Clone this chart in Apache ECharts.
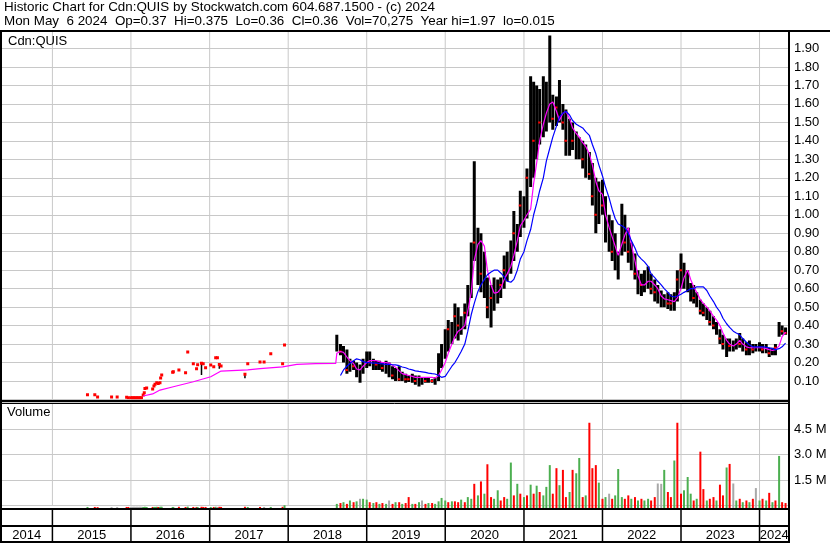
<!DOCTYPE html>
<html><head><meta charset="utf-8">
<script src="https://cdn.jsdelivr.net/npm/echarts@6/dist/echarts.min.js"></script>
<style>html,body{margin:0;padding:0;background:#fff;}#c{width:830px;height:543px;}</style>
</head><body><div id="c"></div>
<script>
// ---------- text ----------
const headerLines = [
  'Historic Chart for Cdn:QUIS by Stockwatch.com 604.687.1500 - (c) 2024',
  'Mon May  6 2024  Op=0.37  Hi=0.375  Lo=0.36  Cl=0.36  Vol=70,275  Year hi=1.97  lo=0.015'
];
const panelLabels = ['Cdn:QUIS', 'Volume'];
const yearLabels = ['2014','2015','2016','2017','2018','2019','2020','2021','2022','2023','2024'];
const yearStarts = ['2015-01-01','2016-01-01','2017-01-01','2018-01-01','2019-01-01','2020-01-01','2021-01-01','2022-01-01','2023-01-01','2024-01-01'];
const timeRange = ['2014-05-07', '2024-05-17'];

// ---------- sparse trading 2015-2017 ----------
const sDates = ['2015-06-13','2015-07-17','2015-07-30','2015-10-03','2015-10-29','2015-12-12','2015-12-20',
  '2016-01-01','2016-01-08','2016-01-15','2016-01-22','2016-01-29','2016-02-05','2016-02-12','2016-02-19',
  '2016-02-27','2016-03-03','2016-03-06','2016-03-14','2016-04-11','2016-04-17','2016-04-22','2016-04-30','2016-05-07','2016-05-15','2016-05-18','2016-05-23',
  '2016-07-13','2016-07-16','2016-08-11','2016-09-11','2016-09-21','2016-10-17','2016-11-01','2016-11-06','2016-11-24','2016-12-02','2016-12-13',
  '2017-01-06','2017-01-20','2017-01-29','2017-02-06','2017-02-15','2017-02-23','2017-06-14','2017-06-27','2017-08-23','2017-09-11','2017-10-12','2017-12-06','2017-12-15'];
const sHigh = [.026,.026,.014,.014,.014,.012,.01,
  .01,.01,.01,.01,.01,.01,.01,.01,
  .024,.037,.06,.062,.057,.073,.082,.091,.086,.091,.116,.133,
  .147,.15,.16,.145,.257,.194,.167,.188,.196,.194,.172,
  .187,.177,.226,.226,.19,.181,.136,.194,.203,.203,.248,.194,.295];
const sLow = [.026,.026,.014,.014,.014,.012,.01,
  .01,.01,.01,.01,.01,.01,.01,.01,
  .024,.037,.06,.062,.057,.073,.082,.091,.086,.091,.116,.133,
  .147,.15,.16,.145,.257,.194,.167,.188,.133,.194,.172,
  .187,.177,.226,.226,.167,.181,.115,.194,.203,.203,.248,.194,.295];
const sVol = [.02,.02,.01,.01,.01,.02,.02,
  .03,.03,.03,.03,.03,.03,.03,.03,
  .02,.02,.03,.02,.02,.02,.02,.03,.02,.02,.03,.03,
  .02,.02,.03,.02,.04,.02,.02,.02,.03,.02,.02,.02,.02,.03,.02,.03,.02,.03,.02,.02,.02,.02,.03,.12];
const sDir = ['uddnnddnnn','nnnnnuuuud','uuuduuuuud','duddudddud','undddudnud','u'].join('').split('');

// ---------- semi-monthly bars 2018-2024 ----------
const dates = [
 '2018-08-15','2018-09-01','2018-09-15','2018-10-01','2018-10-15','2018-11-01','2018-11-15','2018-12-01','2018-12-15',
 '2019-01-01','2019-01-15','2019-02-01','2019-02-15','2019-03-01','2019-03-15','2019-04-01','2019-04-15','2019-05-01','2019-05-15','2019-06-01','2019-06-15','2019-07-01','2019-07-15','2019-08-01','2019-08-15','2019-09-01','2019-09-15','2019-10-01','2019-10-15','2019-11-01','2019-11-15','2019-12-01','2019-12-15',
 '2020-01-01','2020-01-15','2020-02-01','2020-02-15','2020-03-01','2020-03-15','2020-04-01','2020-04-15','2020-05-01','2020-05-15','2020-06-01','2020-06-15','2020-07-01','2020-07-15','2020-08-01','2020-08-15','2020-09-01','2020-09-15','2020-10-01','2020-10-15','2020-11-01','2020-11-15','2020-12-01','2020-12-15',
 '2021-01-01','2021-01-15','2021-02-01','2021-02-15','2021-03-01','2021-03-15','2021-04-01','2021-04-15','2021-05-01','2021-05-15','2021-06-01','2021-06-15','2021-07-01','2021-07-15','2021-08-01','2021-08-15','2021-09-01','2021-09-15','2021-10-01','2021-10-15','2021-11-01','2021-11-15','2021-12-01','2021-12-15',
 '2022-01-01','2022-01-15','2022-02-01','2022-02-15','2022-03-01','2022-03-15','2022-04-01','2022-04-15','2022-05-01','2022-05-15','2022-06-01','2022-06-15','2022-07-01','2022-07-15','2022-08-01','2022-08-15','2022-09-01','2022-09-15','2022-10-01','2022-10-15','2022-11-01','2022-11-15','2022-12-01','2022-12-15',
 '2023-01-01','2023-01-15','2023-02-01','2023-02-15','2023-03-01','2023-03-15','2023-04-01','2023-04-15','2023-05-01','2023-05-15','2023-06-01','2023-06-15','2023-07-01','2023-07-15','2023-08-01','2023-08-15','2023-09-01','2023-09-15','2023-10-01','2023-10-15','2023-11-01','2023-11-15','2023-12-01','2023-12-15',
 '2024-01-01','2024-01-15','2024-02-01','2024-02-15','2024-03-01','2024-03-15','2024-04-01','2024-04-15','2024-05-01'];
const high = [
 .35,.30,.29,.27,.22,.21,.20,.19,.22,
 .26,.26,.22,.21,.21,.20,.21,.20,.18,.17,.18,.15,.14,.13,.14,.13,.13,.12,.12,.12,.11,.12,.25,.30,
 .38,.43,.42,.52,.50,.45,.52,.62,.85,1.29,.93,.90,.80,.66,.62,.66,.65,.66,.78,.80,.86,1.02,.95,1.13,
 1.10,1.25,1.75,1.72,1.70,1.68,1.75,1.72,1.97,1.65,1.64,1.73,1.60,1.57,1.52,1.50,1.45,1.42,1.40,1.38,1.34,1.28,1.20,1.18,
 1.19,1.10,1.00,.97,.90,.80,1.06,1.00,.93,.85,.79,.70,.68,.70,.72,.68,.65,.62,.59,.57,.58,.57,.58,.70,
 .79,.74,.70,.63,.62,.58,.54,.52,.50,.48,.45,.42,.38,.35,.33,.33,.32,.33,.36,.33,.31,.32,.30,.30,
 .31,.30,.30,.28,.28,.30,.42,.40,.39];
const low = [
 .26,.24,.20,.14,.15,.16,.12,.09,.14,
 .17,.18,.16,.16,.16,.15,.14,.12,.11,.10,.10,.10,.09,.095,.09,.08,.07,.08,.09,.09,.09,.08,.10,.17,
 .22,.26,.30,.33,.32,.35,.38,.45,.55,.75,.62,.58,.55,.44,.39,.48,.52,.55,.60,.64,.68,.75,.80,.88,
 .93,.98,1.15,1.20,1.30,1.38,1.42,1.45,1.50,1.46,1.48,1.50,1.46,1.32,1.32,1.35,1.30,1.30,1.25,1.20,1.19,1.05,.90,.95,
 1.00,.85,.80,.75,.70,.65,.78,.80,.74,.70,.65,.57,.56,.58,.60,.57,.53,.52,.50,.50,.49,.48,.48,.53,
 .60,.60,.58,.53,.52,.50,.46,.45,.43,.40,.38,.35,.30,.27,.23,.26,.26,.27,.28,.26,.24,.24,.25,.26,
 .26,.25,.25,.23,.24,.24,.34,.35,.35];
const close = [
 .28,.26,.22,.16,.20,.18,.14,.17,.20,
 .22,.20,.19,.19,.18,.17,.16,.14,.13,.12,.11,.11,.11,.11,.10,.10,.09,.10,.10,.10,.10,.10,.20,.26,
 .34,.38,.35,.45,.40,.42,.47,.55,.80,.85,.75,.68,.60,.50,.55,.58,.60,.62,.70,.72,.80,.90,.88,1.05,
 1.00,1.20,1.50,1.40,1.55,1.50,1.60,1.55,1.60,1.52,1.58,1.55,1.50,1.40,1.45,1.40,1.38,1.36,1.30,1.28,1.22,1.10,1.00,1.10,
 1.05,.90,.88,.80,.75,.72,.95,.85,.80,.72,.68,.60,.62,.65,.66,.60,.58,.55,.52,.54,.52,.52,.55,.65,
 .70,.65,.62,.56,.55,.52,.48,.47,.45,.42,.40,.37,.33,.30,.28,.29,.29,.30,.30,.28,.27,.28,.27,.28,
 .28,.27,.27,.25,.26,.28,.38,.37,.36];
const volume = [ // millions
 .2,.25,.3,.2,.4,.3,.35,.5,.5,
 .45,.3,.25,.3,.2,.25,.2,.4,.2,.3,.3,.2,.25,.6,.2,.2,.3,.4,.2,.25,.25,.2,.35,.55,
 .4,.3,.35,.35,.3,.45,.3,.6,.5,1.38,.7,1.52,.8,2.53,.6,.5,1.0,.4,.6,.5,2.63,.7,1.38,.8,
 .6,.7,1.33,.8,1.27,.9,.7,1.2,2.48,.8,2.3,1.3,2.2,.6,.9,2.2,2.0,2.9,.6,.7,4.97,2.3,2.48,1.45,
 .5,.6,.8,.5,.7,2.25,.6,.5,.7,.5,.6,.4,.5,.4,.5,.4,.6,1.4,1.38,2.2,.9,.6,2.75,4.97,
 .8,1.0,1.78,.8,.4,.5,3.27,1.07,.4,.5,.6,.4,1.33,.7,2.34,2.55,1.4,.4,.5,.3,.4,.3,.5,1.13,
 .4,.5,.4,.85,.3,.4,3.02,.3,.25];
const dir = ['udududunu',
 'udududun','dududdud','unduduuu',
 'ududdudu','udududdu','udduudud',
 'udududuu','udduddud','uududddu',
 'dunduuud','dududuud','dnnuddud',
 'duuududd','udduddud','nudududn',
 'ududududd'].join('').split('');
const maShort = [
 .25,.26,.255,.23,.21,.195,.165,.16,.18,
 .20,.21,.21,.21,.205,.20,.20,.197,.185,.175,.155,.14,.135,.13,.125,.12,.12,.12,.12,.12,.12,.116,.13,.16,
 .20,.25,.30,.34,.37,.38,.40,.48,.58,.755,.84,.86,.83,.70,.62,.576,.58,.60,.65,.68,.72,.78,.86,.94,
 .97,1.00,1.03,1.17,1.28,1.40,1.49,1.55,1.60,1.61,1.56,1.51,1.55,1.56,1.52,1.47,1.44,1.42,1.39,1.37,1.33,1.27,1.18,1.13,
 1.11,1.00,.93,.88,.83,.78,.84,.89,.93,.84,.75,.67,.62,.62,.64,.64,.62,.60,.56,.545,.54,.535,.53,.55,
 .60,.66,.70,.65,.61,.58,.54,.52,.50,.48,.45,.43,.40,.36,.32,.30,.29,.30,.32,.30,.285,.28,.28,.28,
 .28,.28,.275,.27,.265,.27,.29,.34,.365];
const maLong = [
 null,.13,.16,.18,.195,.21,.22,.215,.205,
 .20,.20,.197,.197,.195,.193,.19,.19,.188,.187,.183,.176,.172,.165,.16,.155,.152,.15,.147,.143,.14,.138,.13,.12,
 .125,.15,.18,.20,.23,.26,.30,.37,.46,.52,.585,.62,.65,.675,.69,.70,.70,.685,.665,.64,.635,.65,.70,.76,
 .80,.86,.92,1.00,1.06,1.13,1.20,1.29,1.36,1.42,1.48,1.53,1.55,1.56,1.54,1.51,1.49,1.48,1.47,1.45,1.43,1.38,1.33,1.27,
 1.21,1.15,1.09,1.03,.98,.95,.94,.93,.90,.86,.82,.78,.76,.745,.72,.68,.66,.64,.62,.60,.58,.56,.555,.56,
 .57,.58,.59,.60,.60,.61,.61,.61,.59,.56,.53,.50,.475,.44,.41,.39,.37,.36,.35,.33,.31,.295,.285,.285,
 .285,.285,.283,.28,.275,.27,.275,.285,.305];
// short average while trading was sparse
const maEarlyDates = ['2016-02-27','2016-04-11','2016-05-15','2016-07-16','2016-10-17','2017-01-06','2017-02-23','2017-06-27','2017-08-23','2017-12-06','2018-02-10','2018-05-08','2018-08-10'];
const maEarly = [.019,.03,.051,.069,.096,.123,.154,.16,.167,.177,.19,.194,.195];

// ---------- build ----------
const FONT = '"Liberation Sans", Arial, sans-serif';
const GREEN = '#4caf50', RED = '#ff0000', GRAY = '#a8a8a8', GRID = '#c8c8c8';
const dnum = c => c === 'u' ? 1 : (c === 'd' ? -1 : 0);

const denseBars = dates.map((d, i) => [d, high[i], low[i], close[i], dnum(dir[i])]);
const sparseBars = sDates.map((d, i) => [d, sHigh[i], sLow[i]]);
const volData = sDates.map((d, i) => [d, sVol[i], dnum(sDir[i])])
  .concat(dates.map((d, i) => [d, volume[i], dnum(dir[i])]));
const maShortData = maEarlyDates.map((d, i) => [d, maEarly[i]]).concat(dates.map((d, i) => [d, maShort[i]]));
const maLongData = dates.map((d, i) => [d, maLong[i]]).filter(p => p[1] != null);
const yearSpans = yearLabels.map((lab, i) => [
  i === 0 ? timeRange[0] : yearStarts[i - 1],
  i === yearLabels.length - 1 ? timeRange[1] : yearStarts[i], i]);

function vLine(color, w) {
  return function (params, api) {
    const p = api.coord([api.value(0), api.value(1)]);
    const cs = params.coordSys;
    return {type: 'line', shape: {x1: p[0], y1: cs.y, x2: p[0], y2: cs.y + cs.height},
      style: {stroke: color, lineWidth: w}};
  };
}
function renderDense(params, api) {
  const t = api.value(0);
  const a = api.coord([t, api.value(1)]), b = api.coord([t, api.value(2)]);
  const kids = [{type: 'rect', shape: {x: a[0] - 1.5, y: a[1], width: 3, height: Math.max(1.5, b[1] - a[1])}, style: {fill: '#000'}}];
  if (api.value(4) < 0) {
    const c = api.coord([t, api.value(3)]);
    kids.push({type: 'rect', shape: {x: c[0] - 1.5, y: c[1] - 1, width: 2.5, height: 2}, style: {fill: RED}});
  }
  return {type: 'group', children: kids};
}
function renderSparse(params, api) {
  const t = api.value(0);
  const a = api.coord([t, api.value(1)]), b = api.coord([t, api.value(2)]);
  const kids = [];
  if (b[1] - a[1] > 1) kids.push({type: 'rect', shape: {x: a[0] - 0.75, y: a[1], width: 1.5, height: b[1] - a[1]}, style: {fill: '#000'}});
  kids.push({type: 'rect', shape: {x: a[0] - 1.5, y: a[1] - 1.5, width: 3, height: 3}, style: {fill: RED}});
  return {type: 'group', children: kids};
}
function renderVol(params, api) {
  const t = api.value(0);
  const p = api.coord([t, api.value(1)]);
  const base = params.coordSys.y + params.coordSys.height;
  const d = api.value(2);
  return {type: 'rect', shape: {x: p[0] - 1, y: p[1], width: 2, height: base - p[1]},
    style: {fill: d > 0 ? GREEN : (d < 0 ? RED : GRAY)}};
}
function renderYear(params, api) {
  const a = api.coord([api.value(0), 0.5]), b = api.coord([api.value(1), 0.5]);
  const cs = params.coordSys, idx = api.value(2);
  const kids = [];
  if (idx > 0) kids.push({type: 'line', shape: {x1: a[0], y1: cs.y, x2: a[0], y2: cs.y + cs.height}, style: {stroke: '#000', lineWidth: 1.5}});
  kids.push({type: 'text', x: (a[0] + b[0]) / 2, y: cs.y + cs.height - 8,
    style: {text: yearLabels[idx], font: '13px ' + FONT, fill: '#000', align: 'center', verticalAlign: 'middle'}});
  return {type: 'group', children: kids};
}

const grids = [
  {left: 1, right: 41, top: 30, height: 369.5},
  {left: 1, right: 41, top: 402, height: 107},
  {left: 1, right: 41, top: 402, height: 103.5},
  {left: 1, right: 41, top: 510, height: 33}
];
const axLabel = {color: '#000', fontFamily: FONT, fontSize: 13, margin: 5};
const line = (x1, y1, x2, y2, w) => ({type: 'line', z: 100, silent: true, shape: {x1, y1, x2, y2}, style: {stroke: '#000', lineWidth: w}});
const txt = (s, x, y, size) => ({type: 'text', z: 100, silent: true, x, y, style: {text: s, font: size + 'px ' + FONT, fill: '#000', verticalAlign: 'top'}});

const option = {
  animation: false,
  backgroundColor: '#fff',
  grid: grids,
  xAxis: grids.map((g, i) => ({type: 'time', gridIndex: i, min: timeRange[0], max: timeRange[1], show: false})),
  yAxis: [
    {type: 'value', gridIndex: 0, position: 'right', min: 0, max: 2, interval: 0.1,
     axisLine: {show: false}, axisTick: {show: false},
     splitLine: {lineStyle: {color: GRID, width: 1}},
     axisLabel: Object.assign({}, axLabel, {formatter: v => (v < 0.05 || v > 1.95) ? '' : v.toFixed(2)})},
    {type: 'value', gridIndex: 1, min: -0.1, max: 6.19, show: false},
    {type: 'value', gridIndex: 2, position: 'right', min: 0, max: 6.088, interval: 1.5,
     axisLine: {show: false}, axisTick: {show: false},
     splitLine: {lineStyle: {color: GRID, width: 1}},
     axisLabel: Object.assign({}, axLabel, {formatter: v => (v < 0.1 || v > 5) ? '' : v.toFixed(1) + ' M'})},
    {type: 'value', gridIndex: 3, min: 0, max: 1, show: false}
  ],
  series: [
    {type: 'custom', xAxisIndex: 0, yAxisIndex: 0, z: 1, silent: true, renderItem: vLine(GRID, 1),
     encode: {x: 0, y: 1}, data: yearStarts.map(d => [d, 1])},
    {type: 'custom', xAxisIndex: 2, yAxisIndex: 2, z: 1, silent: true, renderItem: vLine(GRID, 1),
     encode: {x: 0, y: 1}, data: yearStarts.map(d => [d, 1])},
    {type: 'custom', xAxisIndex: 0, yAxisIndex: 0, z: 3, clip: true, renderItem: renderSparse,
     encode: {x: 0, y: [1, 2]}, data: sparseBars},
    {type: 'custom', xAxisIndex: 0, yAxisIndex: 0, z: 3, clip: true, renderItem: renderDense,
     encode: {x: 0, y: [1, 2]}, data: denseBars},
    {type: 'line', xAxisIndex: 0, yAxisIndex: 0, z: 4, showSymbol: false, symbol: 'none',
     lineStyle: {color: '#ff00ff', width: 1.2}, data: maShortData},
    {type: 'line', xAxisIndex: 0, yAxisIndex: 0, z: 5, showSymbol: false, symbol: 'none',
     lineStyle: {color: '#0000ff', width: 1.2}, data: maLongData},
    {type: 'custom', xAxisIndex: 1, yAxisIndex: 1, z: 3, clip: true, renderItem: renderVol,
     encode: {x: 0, y: 1}, data: volData},
    {type: 'custom', xAxisIndex: 3, yAxisIndex: 3, z: 3, renderItem: renderYear,
     encode: {x: [0, 1], y: 2}, data: yearSpans}
  ],
  graphic: [
    txt(headerLines[0], 4, 1, 13.4),
    txt(headerLines[1], 4, 15, 13.4),
    txt(panelLabels[0], 8, 35, 13),
    txt(panelLabels[1], 7, 406, 13),
    line(0, 31, 830, 31, 2),
    line(1, 31, 1, 543, 2),
    line(789, 31, 789, 543, 2),
    line(0, 401, 789, 401, 2),
    line(0, 403.5, 789, 403.5, 1),
    line(0, 509, 789, 509, 2),
    line(0, 526, 789, 526, 2),
    line(0, 542, 789, 542, 2)
  ]
};
const chart = echarts.init(document.getElementById('c'), null, {renderer: 'canvas'});
chart.setOption(option);
</script></body></html>
